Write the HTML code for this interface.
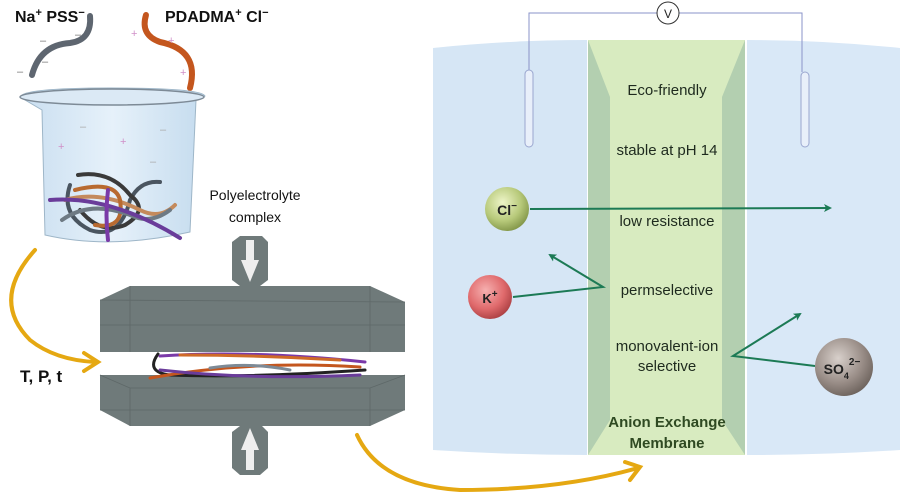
<!DOCTYPE html>
<html><head><meta charset="utf-8"><style>
html,body{margin:0;padding:0;background:#fff}
svg{display:block}
text{font-family:"Liberation Sans",sans-serif}
</style></head><body>
<svg width="900" height="496" viewBox="0 0 900 496" xmlns="http://www.w3.org/2000/svg">
<defs>
<radialGradient id="gCl" cx="0.4" cy="0.35" r="0.7"><stop offset="0" stop-color="#eef5c8"/><stop offset="0.6" stop-color="#b7c97a"/><stop offset="1" stop-color="#7e9245"/></radialGradient>
<radialGradient id="gK" cx="0.4" cy="0.35" r="0.7"><stop offset="0" stop-color="#f6b0b0"/><stop offset="0.6" stop-color="#e06a6c"/><stop offset="1" stop-color="#a83d40"/></radialGradient>
<radialGradient id="gS" cx="0.4" cy="0.35" r="0.7"><stop offset="0" stop-color="#d8d0cb"/><stop offset="0.6" stop-color="#9a8e88"/><stop offset="1" stop-color="#6a605a"/></radialGradient>
<linearGradient id="gB" x1="0" x2="1"><stop offset="0" stop-color="#c9def0"/><stop offset="0.5" stop-color="#e6f1fa"/><stop offset="1" stop-color="#c4dbee"/></linearGradient>
<marker id="ah" markerWidth="8" markerHeight="8" refX="6" refY="4" orient="auto" markerUnits="userSpaceOnUse"><path d="M0,0 L8,4 L0,8 L2,4z" fill="#1c7a55"/></marker>
</defs>

<path d="M433,48 Q510,40 587,40 L587,455 Q510,455 433,450 Z" fill="#d6e6f5"/>
<path d="M747,40 Q825,40 900,48 L900,450 Q825,455 747,455 Z" fill="#d9e8f7"/>
<rect x="588" y="40" width="157" height="415" fill="#d8ebc0"/>
<path d="M588,40 L610,97 L610,420 L588,455 Z" fill="#b3cfb0"/>
<path d="M745,40 L722,97 L722,420 L745,455 Z" fill="#b3cfb0"/>

<path d="M529,70 L529,13 L657,13 M679,13 L802,13 L802,72" fill="none" stroke="#8a93c8" stroke-width="1"/>
<circle cx="668" cy="13" r="11" fill="#fff" stroke="#333" stroke-width="1"/>
<text x="668" y="18" font-size="12" text-anchor="middle" fill="#222">V</text>
<rect x="525" y="70" width="8" height="77" rx="4" fill="#e8effa" stroke="#9aa6cf" stroke-width="1"/>
<rect x="801" y="72" width="8" height="75" rx="4" fill="#e8effa" stroke="#9aa6cf" stroke-width="1"/>

<g font-size="15" fill="#1e2a1e" text-anchor="middle">
<text x="667" y="95">Eco-friendly</text>
<text x="667" y="155">stable at pH 14</text>
<text x="667" y="226">low resistance</text>
<text x="667" y="295">permselective</text>
<text x="667" y="351">monovalent-ion</text>
<text x="667" y="371">selective</text>
<text x="667" y="427" font-weight="bold" fill="#2f4a22">Anion Exchange</text>
<text x="667" y="448" font-weight="bold" fill="#2f4a22">Membrane</text>
</g>

<g stroke="#1c7a55" stroke-width="2" fill="none">
<line x1="530" y1="209" x2="830" y2="208" marker-end="url(#ah)"/>
<polyline points="513,297 603,287 550,255" marker-end="url(#ah)"/>
<polyline points="815,366 733,356 800,314" marker-end="url(#ah)"/>
</g>

<circle cx="507" cy="209" r="22" fill="url(#gCl)"/>
<text x="507" y="215" font-size="14" font-weight="bold" text-anchor="middle" fill="#222">Cl<tspan dy="-6" font-size="10">−</tspan></text>
<circle cx="490" cy="297" r="22" fill="url(#gK)"/>
<text x="490" y="303" font-size="13" font-weight="bold" text-anchor="middle" fill="#222">K<tspan dy="-6" font-size="10">+</tspan></text>
<circle cx="844" cy="367" r="29" fill="url(#gS)"/>
<text x="842" y="374" font-size="14" font-weight="bold" text-anchor="middle" fill="#222">SO<tspan dy="5" font-size="9">4</tspan><tspan dy="-14" font-size="10">2−</tspan></text>

<text x="15" y="22" font-size="16" font-weight="bold" fill="#111">Na<tspan dy="-6" font-size="11">+</tspan><tspan dy="6"> PSS</tspan><tspan dy="-6" font-size="11">−</tspan></text>
<text x="165" y="22" font-size="16" font-weight="bold" fill="#111">PDADMA<tspan dy="-6" font-size="11">+</tspan><tspan dy="6"> Cl</tspan><tspan dy="-6" font-size="11">−</tspan></text>

<path d="M90,16 Q92,40 70,43 Q40,45 32,75" fill="none" stroke="#5e6670" stroke-width="6" stroke-linecap="round"/>
<path d="M146,15 Q140,35 160,42 Q200,50 190,88" fill="none" stroke="#c4561e" stroke-width="6" stroke-linecap="round"/>
<g font-size="11" fill="#777"><text x="40" y="44">–</text><text x="75" y="38">–</text><text x="17" y="75">–</text><text x="42" y="65">–</text></g>
<g font-size="11" fill="#d090c8"><text x="131" y="37">+</text><text x="168" y="44">+</text><text x="180" y="76">+</text></g>

<path d="M20,97 Q22,88 110,88 Q202,88 205,96 L196,100 L190,232 Q110,250 45,235 L42,110 Z" fill="url(#gB)" stroke="#9eb6c8" stroke-width="1"/>
<ellipse cx="112" cy="97" rx="92" ry="8" fill="#dbe9f5" stroke="#7d8a96" stroke-width="1.5"/>
<g font-size="11" fill="#aaa"><text x="80" y="130">–</text><text x="160" y="133">–</text><text x="150" y="165">–</text></g>
<g font-size="11" fill="#d090c8"><text x="58" y="150">+</text><text x="120" y="145">+</text></g>
<g fill="none" stroke-width="4" stroke-linecap="round">
<path d="M70,185 Q60,215 90,230 Q120,240 130,200 Q140,180 160,182" stroke="#4a5560"/>
<path d="M78,175 Q110,170 130,195 Q150,210 125,225 Q100,235 80,210" stroke="#3a3a3a"/>
<path d="M65,200 Q100,190 140,210 Q160,220 175,205" stroke="#c48a5c"/>
<path d="M75,190 Q115,180 120,200 Q125,230 95,225" stroke="#b86a30"/>
<path d="M62,220 Q90,200 130,215 Q150,225 170,210" stroke="#6e7a84"/>
<path d="M50,200 Q110,195 180,238" stroke="#6a3c9a"/>
<path d="M108,190 Q105,215 108,240" stroke="#7a3aa8"/>
</g>

<text x="255" y="200" font-size="14" text-anchor="middle" fill="#111">Polyelectrolyte</text>
<text x="255" y="222" font-size="14" text-anchor="middle" fill="#111">complex</text>

<path d="M232,242 L240,236 L262,236 L268,242 L268,280 L260,286 L240,286 L232,280 Z" fill="#6f7a7a"/>
<path d="M246,240 L254,240 L254,260 L259,260 L250,282 L241,260 L246,260 Z" fill="#eee"/>
<path d="M100,300 L130,286 L370,286 L405,302 L405,352 L100,352 Z" fill="#6f7a7a"/>
<path d="M100,300 L405,302 M100,325 L405,325 M130,286 L130,352 M370,286 L370,352" stroke="#5e6868" stroke-width="0.8" fill="none"/>
<path d="M100,375 L405,375 L405,410 L370,426 L130,426 L100,410 Z" fill="#6f7a7a"/>
<path d="M100,375 L130,388 L370,388 L405,375 M100,410 L405,410 M130,388 L130,426 M370,388 L370,426" stroke="#5e6868" stroke-width="0.8" fill="none"/>
<path d="M232,432 L240,426 L262,426 L268,432 L268,468 L260,475 L240,475 L232,468 Z" fill="#6f7a7a"/>
<path d="M241,450 L250,428 L259,450 L254,450 L254,470 L246,470 L246,450 Z" fill="#eee"/>
<g fill="none" stroke-width="3" stroke-linecap="round">
<path d="M158,354 Q145,372 170,375 Q250,378 365,370" stroke="#222"/>
<path d="M160,356 Q250,350 365,362" stroke="#7a3aa8"/>
<path d="M150,378 Q250,360 360,367" stroke="#c4561e"/>
<path d="M180,355 Q260,355 340,360" stroke="#cf6a28"/>
<path d="M160,370 Q250,380 360,375" stroke="#6a3c9a"/>
<path d="M210,368 Q250,362 290,370" stroke="#7d8a96"/>
</g>

<text x="20" y="382" font-size="17" font-weight="bold" fill="#111">T, P, t</text>

<g fill="none" stroke="#e5a812" stroke-width="4" stroke-linecap="round">
<path d="M35,250 Q-10,300 30,340 Q55,360 95,362"/>
<path d="M84,353 L98,362 L84,371"/>
<path d="M357,435 Q380,485 460,490 Q560,490 638,468"/>
<path d="M625,462 L640,467 L630,480"/>
</g>
</svg>
</body></html>
